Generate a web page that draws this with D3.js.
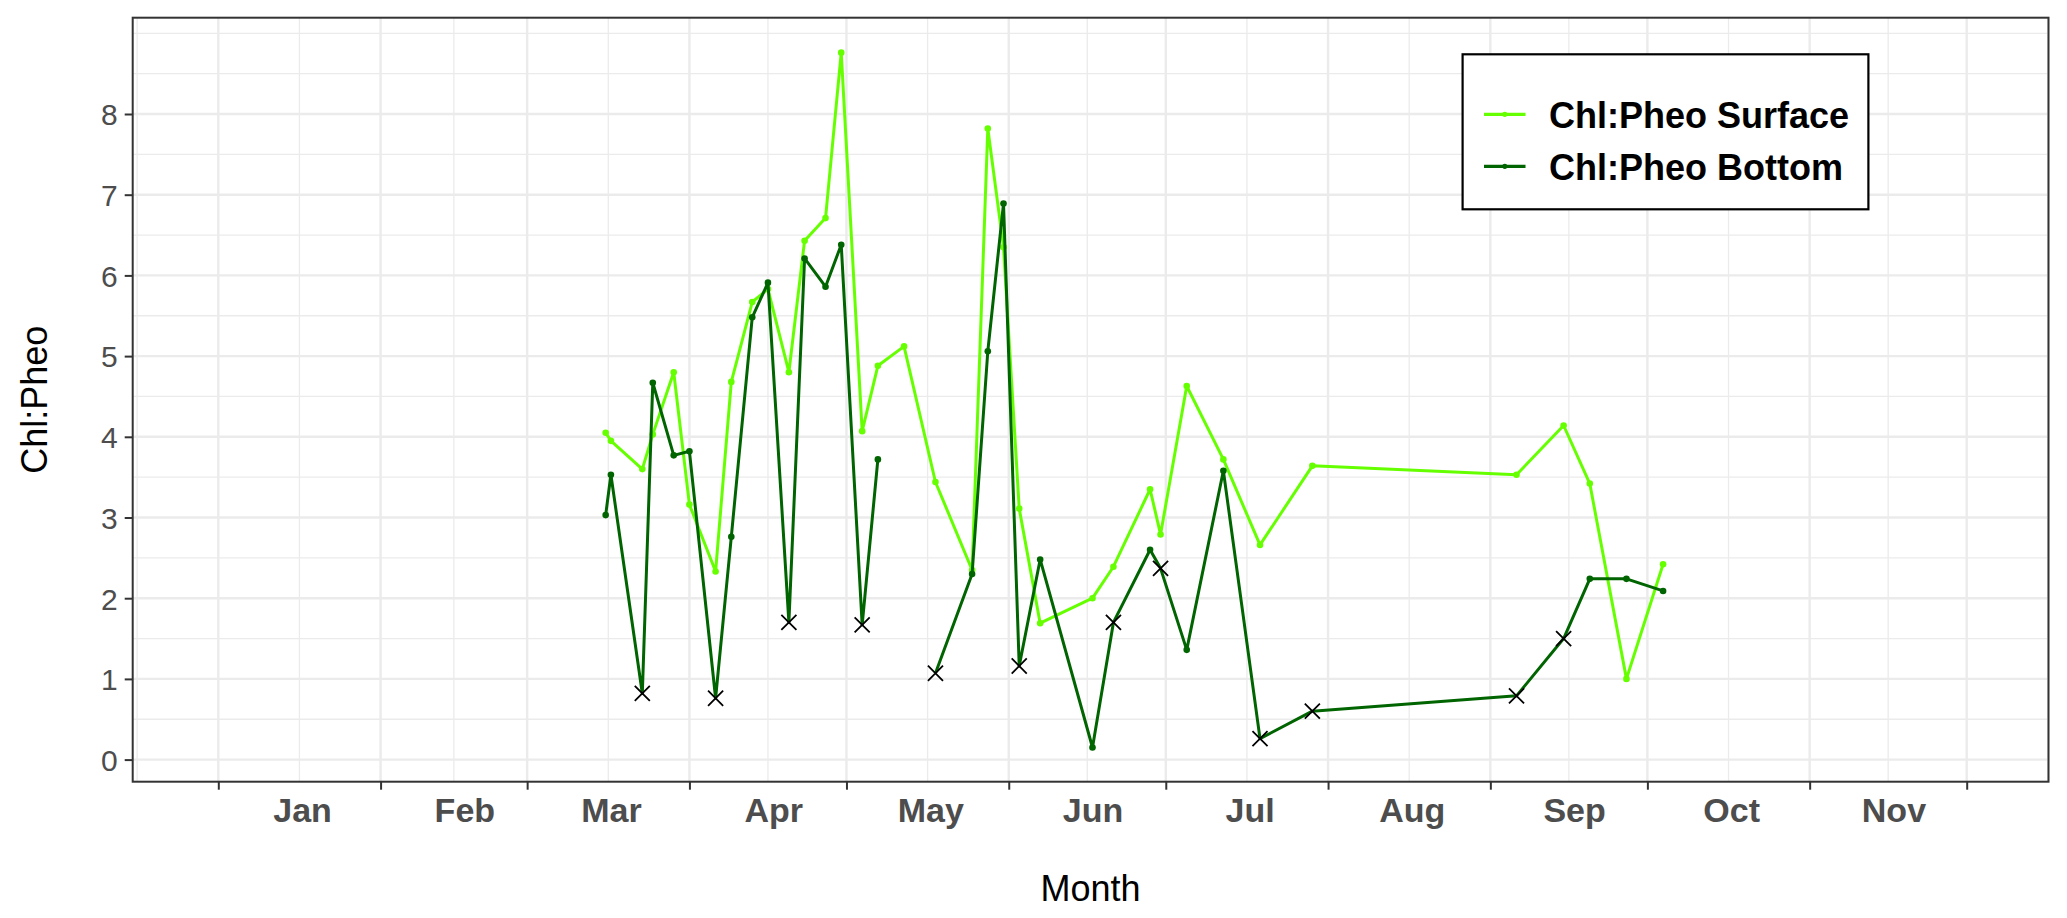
<!DOCTYPE html>
<html><head><meta charset="utf-8">
<script src="https://cdn.jsdelivr.net/npm/d3@7"></script>
<style>html,body{margin:0;padding:0;background:#fff;} svg{display:block;}</style>
</head><body><svg id="c" width="2067" height="918"></svg>
<script>
// ---- data ----
const sampleDates = ["03-16","03-17","03-23","03-25","03-29","04-01","04-06","04-09","04-13","04-16",
  "04-20","04-23","04-27","04-30","05-04","05-07","05-12","05-18","05-25","05-28",
  "05-31","06-03","06-07","06-17","06-21","06-28","06-30","07-05","07-12","07-19",
  "07-29","09-06","09-15","09-20","09-27","10-04"];
const surfaceValues = [4.05,3.95,3.60,4.03,4.80,3.16,2.33,4.68,5.67,5.83,
  4.80,6.43,6.71,8.76,4.07,4.88,5.12,3.44,2.35,7.82,
  6.35,3.11,1.69,2.00,2.39,3.35,2.79,4.63,3.72,2.66,
  3.64,3.53,4.14,3.42,1.00,2.42];
const bottomValues = [3.03,3.53,0.82,4.67,3.77,3.82,0.76,2.76,5.48,5.91,
  1.70,6.21,5.86,6.38,1.67,3.72,null,1.07,2.30,5.06,
  6.89,1.16,2.48,0.15,1.70,2.60,2.37,1.36,3.58,0.26,
  0.60,0.79,1.50,2.24,2.24,2.09];
const bottomFlagged = [0,0,1,0,0,0,1,0,0,0,
  1,0,0,0,1,0,0,1,0,0,
  0,1,0,0,1,0,1,0,0,1,
  1,1,1,0,0,0];
const monthLabels = ["Jan","Feb","Mar","Apr","May","Jun","Jul","Aug","Sep","Oct","Nov"];
const yTickValues = [0,1,2,3,4,5,6,7,8];
const seriesNames = ["Chl:Pheo Surface","Chl:Pheo Bottom"];
const seriesColors = ["#66FF00","#006400"];
const xTitle = "Month", yTitle = "Chl:Pheo";
const YEAR = 2021;

// ---- layout ----
const P = {left:132.7, right:2048.5, top:17.7, bottom:781.7};
const svg = d3.select("#c");
const parse = s => { const [m,d] = s.split("-").map(Number); return new Date(Date.UTC(YEAR, m-1, d)); };

const x = d3.scaleUtc().domain([new Date(Date.UTC(YEAR,0,1)), new Date(Date.UTC(YEAR,11,1))]).range([218.3, 1966.7]);
const y = d3.scaleLinear().domain([0,8]).range([759.6, 114]);

const inX = v => v >= P.left && v <= P.right;
const inY = v => v >= P.top && v <= P.bottom;

// grid
const g = svg.append("g");
const majorX = d3.range(-1, 13).map(m => new Date(Date.UTC(YEAR, m, 1)));
const minorX = [];
for (let i=0;i<majorX.length-1;i++) minorX.push(new Date((+majorX[i] + +majorX[i+1])/2));
minorX.filter(d=>inX(x(d))).forEach(d => g.append("line").attr("x1",x(d)).attr("x2",x(d)).attr("y1",P.top).attr("y2",P.bottom).attr("stroke","#EBEBEB").attr("stroke-width",1.3));
const minorY = d3.range(-0.5, 9.01, 0.5).filter(v => !Number.isInteger(v) || v===9);
minorY.filter(v=>inY(y(v))).forEach(v => g.append("line").attr("x1",P.left).attr("x2",P.right).attr("y1",y(v)).attr("y2",y(v)).attr("stroke","#EBEBEB").attr("stroke-width",1.3));
majorX.filter(d=>inX(x(d))).forEach(d => g.append("line").attr("x1",x(d)).attr("x2",x(d)).attr("y1",P.top).attr("y2",P.bottom).attr("stroke","#EBEBEB").attr("stroke-width",2.4));
yTickValues.forEach(v => g.append("line").attr("x1",P.left).attr("x2",P.right).attr("y1",y(v)).attr("y2",y(v)).attr("stroke","#EBEBEB").attr("stroke-width",2.4));

// data
const rows = sampleDates.map((s,i) => ({date: parse(s), s: surfaceValues[i], b: bottomValues[i], f: bottomFlagged[i]}));
const lineS = d3.line().x(d=>x(d.date)).y(d=>y(d.s));
const lineB = d3.line().defined(d=>d.b!=null).x(d=>x(d.date)).y(d=>y(d.b));
const data = svg.append("g");
data.append("path").datum(rows).attr("d", lineS).attr("fill","none").attr("stroke",seriesColors[0]).attr("stroke-width",3).attr("stroke-linejoin","round");
data.selectAll(".ds").data(rows).join("circle").attr("cx",d=>x(d.date)).attr("cy",d=>y(d.s)).attr("r",3.3).attr("fill",seriesColors[0]);
data.append("path").datum(rows).attr("d", lineB).attr("fill","none").attr("stroke",seriesColors[1]).attr("stroke-width",3).attr("stroke-linejoin","round");
data.selectAll(".db").data(rows.filter(d=>d.b!=null && !d.f)).join("circle").attr("cx",d=>x(d.date)).attr("cy",d=>y(d.b)).attr("r",3.3).attr("fill",seriesColors[1]);
const cross = d3.symbol().type(d3.symbolX).size(150);
data.selectAll(".dx").data(rows.filter(d=>d.b!=null && d.f)).join("path")
  .attr("transform",d=>`translate(${x(d.date)},${y(d.b)})`).attr("d", cross)
  .attr("fill","none").attr("stroke","#000").attr("stroke-width",1.8);

// panel border
svg.append("rect").attr("x",P.left).attr("y",P.top).attr("width",P.right-P.left).attr("height",P.bottom-P.top)
  .attr("fill","none").attr("stroke","#333333").attr("stroke-width",2);

// axes
const yAxis = svg.append("g").attr("transform",`translate(${P.left},0)`)
  .call(d3.axisLeft(y).tickValues(yTickValues).tickSize(8).tickPadding(7).tickFormat(d3.format("d")));
yAxis.select(".domain").remove();
yAxis.selectAll(".tick line").attr("stroke","#333333").attr("stroke-width",2);
yAxis.selectAll(".tick text").attr("fill","#4D4D4D").style("font-family","'Liberation Sans', Arial, Helvetica, sans-serif").style("font-size","30px").attr("dy","0.36em");

const xTicks = svg.append("g").attr("transform",`translate(0,${P.bottom})`)
  .call(d3.axisBottom(x).tickValues(majorX.filter(d=>inX(x(d)))).tickSize(8).tickFormat(""));
xTicks.select(".domain").remove();
xTicks.selectAll(".tick line").attr("stroke","#333333").attr("stroke-width",2);

const labelDates = monthLabels.map((m,i) => new Date(Date.UTC(YEAR, i, 17)));
const xLab = svg.append("g").attr("transform",`translate(0,${P.bottom})`)
  .call(d3.axisBottom(x).tickValues(labelDates).tickSize(0).tickPadding(0).tickFormat((d,i)=>monthLabels[i]));
xLab.select(".domain").remove();
xLab.selectAll(".tick line").remove();
xLab.selectAll(".tick text").attr("y",40).attr("dy",0).attr("fill","#4D4D4D")
  .style("font-family","'Liberation Sans', Arial, Helvetica, sans-serif").style("font-size","34px").style("font-weight","bold");

// titles
svg.append("text").attr("x",(P.left+P.right)/2).attr("y",901).attr("text-anchor","middle")
  .style("font-family","'Liberation Sans', Arial, Helvetica, sans-serif").style("font-size","36px").attr("fill","#000").text(xTitle);
svg.append("text").attr("transform",`translate(47,${(P.top+P.bottom)/2}) rotate(-90)`).attr("text-anchor","middle")
  .style("font-family","'Liberation Sans', Arial, Helvetica, sans-serif").style("font-size","36px").attr("fill","#000").text(yTitle);

// legend
const L = svg.append("g");
L.append("rect").attr("x",1462.6).attr("y",54.3).attr("width",405.8).attr("height",155).attr("fill","#fff").attr("stroke","#000").attr("stroke-width",2.2);
seriesNames.forEach((n,i) => {
  const ky = 114.3 + i*52;
  L.append("line").attr("x1",1484).attr("x2",1525.5).attr("y1",ky).attr("y2",ky).attr("stroke",seriesColors[i]).attr("stroke-width",3.2);
  L.append("circle").attr("cx",1504.8).attr("cy",ky).attr("r",2.6).attr("fill",seriesColors[i]);
  L.append("text").attr("x",1549).attr("y",ky+13.3).style("font-family","'Liberation Sans', Arial, Helvetica, sans-serif")
    .style("font-size","36px").style("font-weight","bold").attr("fill","#000").text(n);
});
</script></body></html>
